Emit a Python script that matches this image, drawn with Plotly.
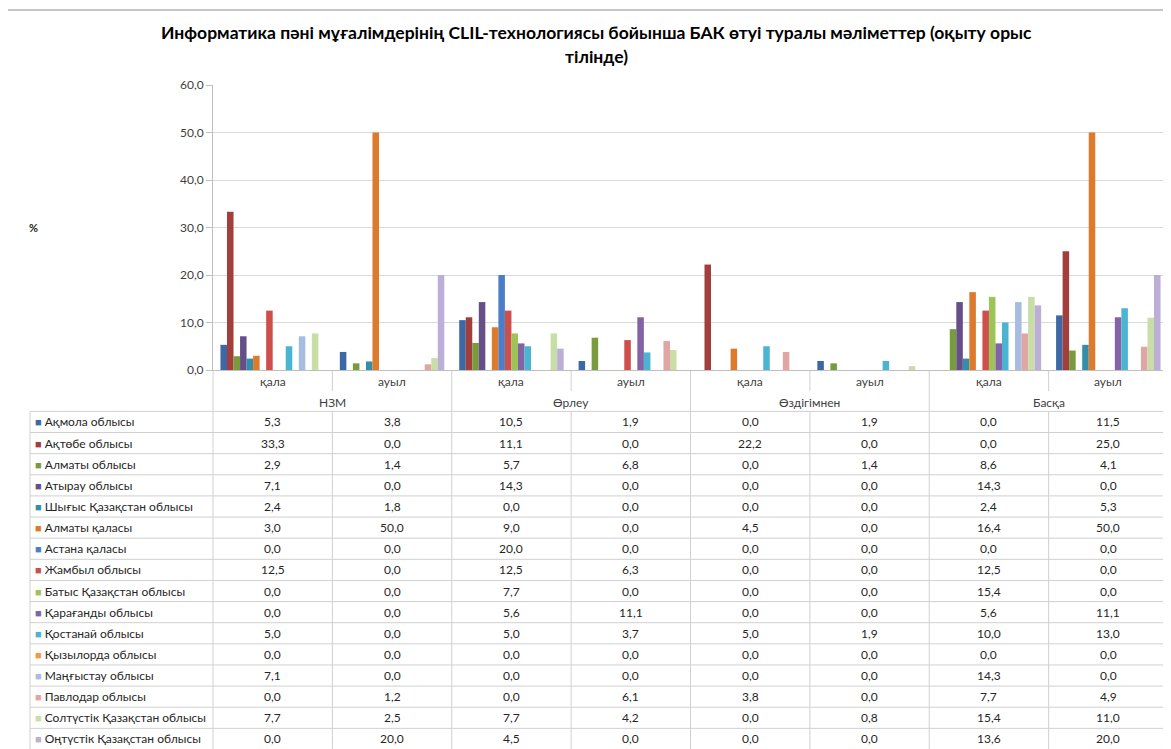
import plotly.graph_objects as go

# page body has an 8px margin, so the figure is drawn 8px in from the window corner
OFF = 8
W, H = 1171 - OFF, 749 - OFF

groups = ["НЗМ", "Өрлеу", "Өздігімнен", "Басқа"]
subcats = ["қала", "ауыл"]

regions = [
    "Ақмола облысы", "Ақтөбе облысы", "Алматы облысы", "Атырау облысы",
    "Шығыс Қазақстан облысы", "Алматы қаласы", "Астана қаласы", "Жамбыл облысы",
    "Батыс Қазақстан облысы", "Қарағанды облысы", "Қостанай облысы", "Қызылорда облысы",
    "Маңғыстау облысы", "Павлодар облысы", "Солтүстік Қазақстан облысы", "Оңтүстік Қазақстан облысы",
]

# values per region: [НЗМ қала, НЗМ ауыл, Өрлеу қала, Өрлеу ауыл, Өздігімнен қала, Өздігімнен ауыл, Басқа қала, Басқа ауыл]
akmola = [5.3, 3.8, 10.5, 1.9, 0.0, 1.9, 0.0, 11.5]
aktobe = [33.3, 0.0, 11.1, 0.0, 22.2, 0.0, 0.0, 25.0]
almaty_obl = [2.9, 1.4, 5.7, 6.8, 0.0, 1.4, 8.6, 4.1]
atyrau = [7.1, 0.0, 14.3, 0.0, 0.0, 0.0, 14.3, 0.0]
shygys = [2.4, 1.8, 0.0, 0.0, 0.0, 0.0, 2.4, 5.3]
almaty_city = [3.0, 50.0, 9.0, 0.0, 4.5, 0.0, 16.4, 50.0]
astana = [0.0, 0.0, 20.0, 0.0, 0.0, 0.0, 0.0, 0.0]
zhambyl = [12.5, 0.0, 12.5, 6.3, 0.0, 0.0, 12.5, 0.0]
batys = [0.0, 0.0, 7.7, 0.0, 0.0, 0.0, 15.4, 0.0]
karagandy = [0.0, 0.0, 5.6, 11.1, 0.0, 0.0, 5.6, 11.1]
kostanay = [5.0, 0.0, 5.0, 3.7, 5.0, 1.9, 10.0, 13.0]
kyzylorda = [0.0, 0.0, 0.0, 0.0, 0.0, 0.0, 0.0, 0.0]
mangystau = [7.1, 0.0, 0.0, 0.0, 0.0, 0.0, 14.3, 0.0]
pavlodar = [0.0, 1.2, 0.0, 6.1, 3.8, 0.0, 7.7, 4.9]
soltustik = [7.7, 2.5, 7.7, 4.2, 0.0, 0.8, 15.4, 11.0]
ontustik = [0.0, 20.0, 4.5, 0.0, 0.0, 0.0, 13.6, 20.0]

series = [akmola, aktobe, almaty_obl, atyrau, shygys, almaty_city, astana, zhambyl,
          batys, karagandy, kostanay, kyzylorda, mangystau, pavlodar, soltustik, ontustik]

colors = [
    "#3C68A5", "#A23F3C", "#7A9A3E", "#664E88", "#358EA8", "#DD7A2C",
    "#4A7FC8", "#CD4E4B", "#9CC456", "#8462A8", "#4BB4D0", "#F79646",
    "#A6BCE0", "#E0A6A4", "#C9DDA6", "#BCAED6",
]

cat_keys = [f"{g}|{s}" for g in groups for s in subcats]
cat_text = [s for _ in groups for s in subcats]

FONT = "Lato"
GRID = "#D0D0D0"


def px(x):
    return (x - OFF) / W


def py(y):
    return 1 - (y - OFF) / H


fig = go.Figure()

for name, vals, col in zip(regions, series, colors):
    fig.add_trace(go.Bar(
        x=cat_keys, y=vals, name=name,
        marker=dict(color=col, line=dict(width=0)),
        showlegend=False,
    ))

x0_px, x1_px = 213, 1168
tab_left = 30
colw = (x1_px - x0_px) / 8
axis_y = 370
sub_y = 391
tab_top = 411.4
rowh = 21.13
n_rows = len(regions)
tab_bot = tab_top + rowh * n_rows


def fmt(v):
    return f"{v:.1f}".replace(".", ",")


shapes = []
annotations = []


def hline(y, xa, xb):
    shapes.append(dict(type="line", xref="paper", yref="paper",
                       x0=px(xa), x1=px(xb), y0=py(y), y1=py(y),
                       line=dict(color=GRID, width=1), layer="below"))


def vline(x, ya, yb):
    shapes.append(dict(type="line", xref="paper", yref="paper",
                       x0=px(x), x1=px(x), y0=py(ya), y1=py(yb),
                       line=dict(color=GRID, width=1), layer="below"))


# table grid
for i in range(n_rows + 1):
    hline(tab_top + i * rowh, tab_left, x1_px)
vline(tab_left, tab_top, tab_bot)
vline(x0_px, axis_y, tab_bot)
for j in range(1, 9):
    xx = x0_px + j * colw
    if j % 2 == 0:
        vline(xx, axis_y, tab_bot)
    else:
        vline(xx, axis_y, sub_y)
        vline(xx, tab_top, tab_bot)

# category labels (first and second level)
for j, t in enumerate(cat_text):
    annotations.append(dict(text=t, xref="x", yref="paper", x=cat_keys[j], y=py(381),
                            xanchor="center", yanchor="middle", showarrow=False,
                            font=dict(family=FONT, size=12, color="#404040")))
for k, g in enumerate(groups):
    annotations.append(dict(text=g, xref="x", yref="paper", x=2 * k + 0.5, y=py(402),
                            xanchor="center", yanchor="middle", showarrow=False,
                            font=dict(family=FONT, size=12, color="#404040")))

# table cells
for i, (r, c, s) in enumerate(zip(regions, colors, series)):
    yc = py(tab_top + (i + 0.5) * rowh)
    annotations.append(dict(
        text=f"<span style='color:{c};font-size:11px'>■</span> {r}",
        xref="paper", yref="paper", x=px(33), y=yc,
        xanchor="left", yanchor="middle", showarrow=False,
        font=dict(family=FONT, size=12, color="#262626")))
    for j, v in enumerate(s):
        annotations.append(dict(
            text=fmt(v), xref="x", yref="paper", x=cat_keys[j], y=yc,
            xanchor="center", yanchor="middle", showarrow=False,
            font=dict(family=FONT, size=12, color="#262626")))

# outer frame of the chart area
shapes.append(dict(type="line", xref="paper", yref="paper",
                   x0=px(7), x1=1.02, y0=py(10), y1=py(10),
                   line=dict(color="#8C8C8C", width=1)))
shapes.append(dict(type="line", xref="paper", yref="paper",
                   x0=px(7), x1=px(7), y0=py(10), y1=-0.05,
                   line=dict(color="#8C8C8C", width=1)))

# title and axis title
annotations += [
    dict(text="<b>Информатика пәні мұғалімдерінің CLIL-технологиясы бойынша БАК өтуі туралы мәліметтер (оқыту орыс</b>",
         xref="paper", yref="paper", x=px(596), y=py(33),
         xanchor="center", yanchor="middle", showarrow=False,
         font=dict(family=FONT, size=17.5, color="#000000")),
    dict(text="<b>тілінде)</b>",
         xref="paper", yref="paper", x=px(596), y=py(57),
         xanchor="center", yanchor="middle", showarrow=False,
         font=dict(family=FONT, size=17.5, color="#000000")),
    dict(text="<b>%</b>", xref="paper", yref="paper", x=px(27), y=py(227),
         xanchor="left", yanchor="middle", showarrow=False,
         font=dict(family=FONT, size=11, color="#262626")),
]

fig.update_layout(
    width=W, height=H,
    margin=dict(l=0, r=0, t=0, b=0, autoexpand=False),
    paper_bgcolor="white", plot_bgcolor="white",
    separators=", ",
    barmode="group", bargap=0.125, bargroupgap=0,
    font=dict(family=FONT, size=12, color="#404040"),
    shapes=shapes,
    annotations=annotations,
    xaxis=dict(
        domain=[px(x0_px), px(x1_px)],
        type="category", categoryorder="array", categoryarray=cat_keys,
        range=[-0.5, 7.5],
        showline=True, linecolor="#BFBFBF", linewidth=1,
        showticklabels=False, ticks="", showgrid=False, automargin=False,
    ),
    yaxis=dict(
        domain=[py(axis_y), py(85)],
        range=[0, 60], dtick=10, tickformat=".1f",
        showgrid=True, gridcolor="#D9D9D9", gridwidth=1,
        showline=True, linecolor="#BFBFBF", linewidth=1,
        ticks="outside", ticklen=6, tickcolor="#BFBFBF",
        tickfont=dict(family=FONT, size=12, color="#404040"),
        zeroline=False, automargin=False,
    ),
)

fig.write_html("out.html")
